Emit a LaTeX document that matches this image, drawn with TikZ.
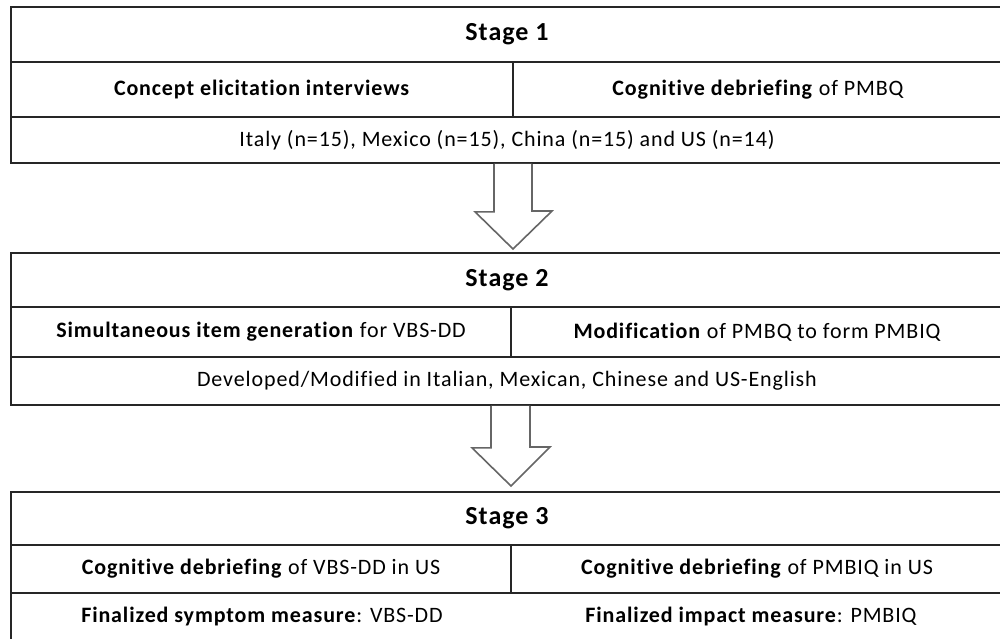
\documentclass[tikz,border=0pt]{standalone}
\usepackage{fontspec}
\setmainfont{Carlito}[Ligatures=NoCommon]
\usetikzlibrary{calc}
\tikzset{
  cell/.style={draw=black!85, line width=1.6pt, inner sep=0pt, anchor=center},
  headtxt/.style={font=\fontsize{26}{29}\selectfont\addfontfeature{LetterSpace=4}\bfseries},
  bodytxt/.style={font=\fontsize{22}{25}\selectfont\addfontfeature{LetterSpace=4}},
  plain/.style={inner sep=0pt, font=\fontsize{22}{25}\selectfont\addfontfeature{LetterSpace=4}},
  blockarrow/.style={draw=black!60, line width=1.6pt, line join=miter, fill=white}
}
\begin{document}
\begin{tikzpicture}[x=1pt,y=-1pt]
\useasboundingbox[fill=white] (0,0) rectangle (1000,639);
% Stage 1
\node[cell, headtxt, minimum width=992, minimum height=55] (s1head) at (507,34.5) {Stage 1};
\node[cell, bodytxt, minimum width=502, minimum height=55] (s1a) at (262,89.5) {\textbf{Concept elicitation interviews}};
\node[cell, bodytxt, minimum width=490, minimum height=55] (s1b) at (758,89.5) {\textbf{Cognitive debriefing} of PMBQ};
\node[cell, bodytxt, minimum width=992, minimum height=46] (s1c) at (507,140) {Italy (n=15), Mexico (n=15), China (n=15) and US (n=14)};
% Stage 2
\node[cell, headtxt, minimum width=992, minimum height=54] (s2head) at (507,280) {Stage 2};
\node[cell, bodytxt, minimum width=500, minimum height=50] (s2a) at (261,332) {\textbf{Simultaneous item generation} for VBS-DD};
\node[cell, bodytxt, minimum width=492, minimum height=50] (s2b) at (757,332) {\textbf{Modification} of PMBQ to form PMBIQ};
\node[cell, bodytxt, minimum width=992, minimum height=48] (s2c) at (507,381) {Developed/Modified in Italian, Mexican, Chinese and US-English};
% Stage 3
\node[cell, headtxt, minimum width=992, minimum height=53] (s3head) at (507,518.5) {Stage 3};
\node[cell, bodytxt, minimum width=500, minimum height=48] (s3a) at (261,569) {\textbf{Cognitive debriefing} of VBS-DD in US};
\node[cell, bodytxt, minimum width=492, minimum height=48] (s3b) at (757,569) {\textbf{Cognitive debriefing} of PMBIQ in US};
\node[cell, minimum width=992, minimum height=70] (s3c) at (507,628) {};
\node[plain] (s3c1) at (262,617) {\textbf{Finalized symptom measure}: VBS-DD};
\node[plain] (s3c2) at (751,617) {\textbf{Finalized impact measure}: PMBIQ};
% Arrows
\coordinate (a1tip) at (513,249);
\coordinate (a2tip) at (511,486);
\draw[blockarrow] (s1c.south -| 494,0) -- ++(0,48) -- ++(-19,0) -- (a1tip) -- ++(39,-38) -- ++(-20,0) -- (s1c.south -| 532,0);
\draw[blockarrow] (s2c.south -| 491,0) -- ++(0,42) -- ++(-19,0) -- (a2tip) -- ++(39,-39) -- ++(-20,0) -- (s2c.south -| 530,0);
\end{tikzpicture}
\end{document}
